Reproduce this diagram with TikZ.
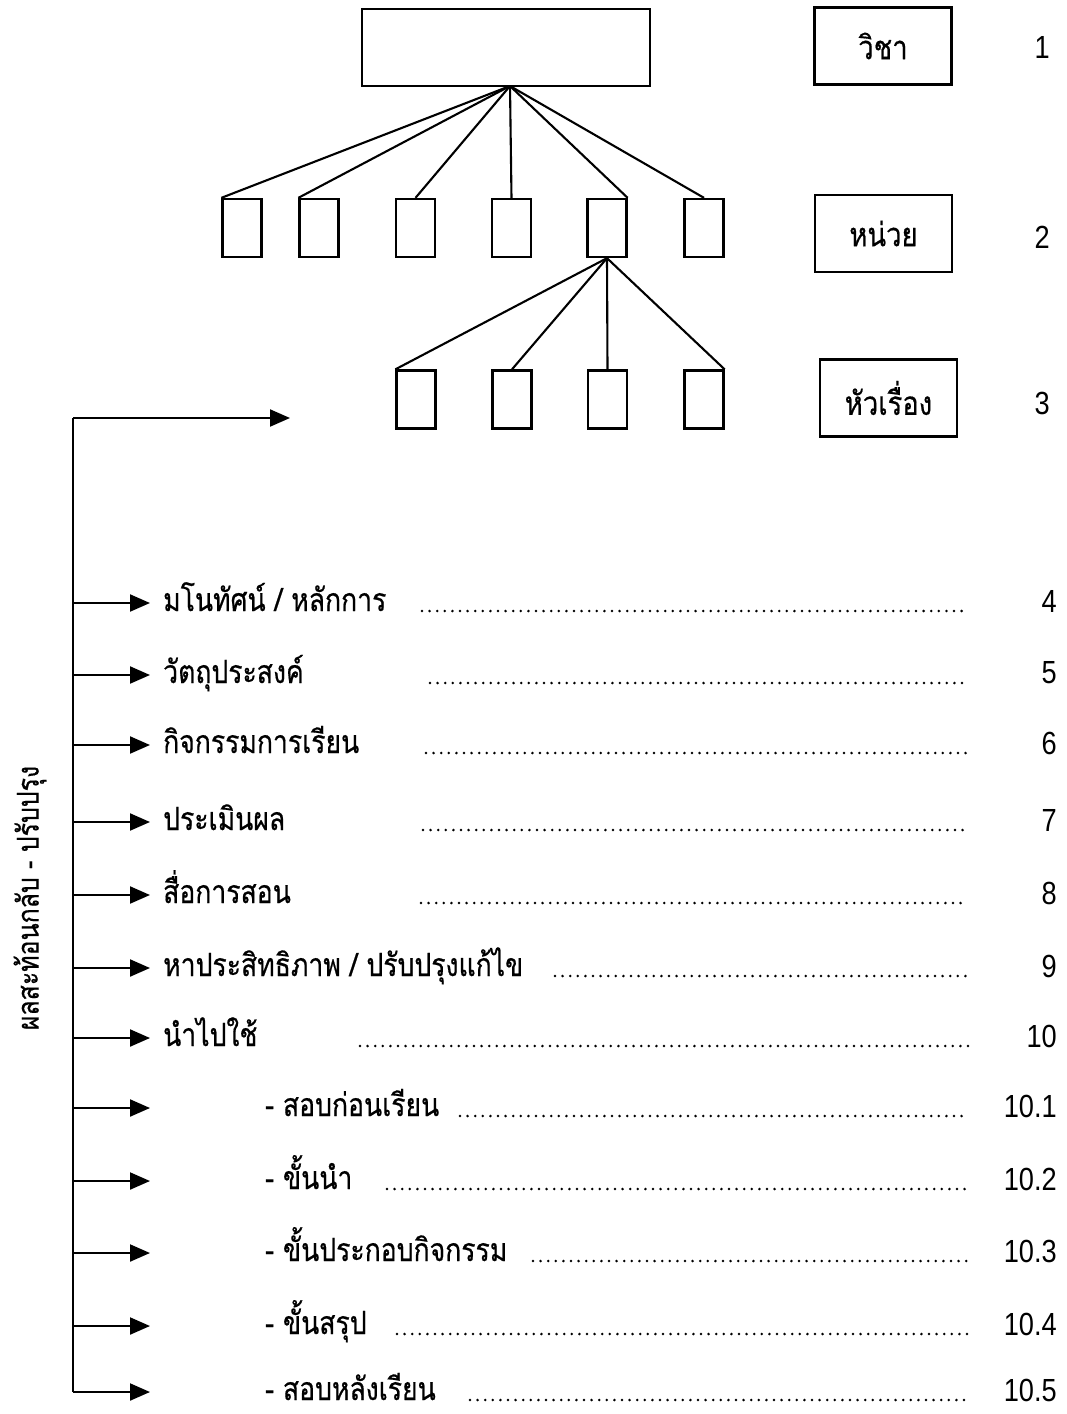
\documentclass[tikz,border=0pt]{standalone}
\usepackage{fontspec}
\setmainfont{Liberation Sans}[FakeStretch=0.85]
\newfontfamily\thai[Script=Thai, FakeStretch=0.83, FakeBold=0.5]{Loma}
\usetikzlibrary{arrows.meta}
\begin{document}
\begin{tikzpicture}[x=1pt,y=-1pt,
  frame/.style={draw, line width=2.3pt, inner sep=0pt},
  leaf/.style={frame, minimum width=39pt, minimum height=58pt},
  tag/.style={frame, minimum width=137pt, minimum height=77pt,
    font=\thai\fontsize{33}{38}\selectfont},
  link/.style={line width=2.1pt},
  feed/.style={line width=2.1pt, -{Triangle[length=20pt,width=17pt]}},
  label/.style={anchor=base west, inner sep=0pt, font=\thai\fontsize{32}{38}\selectfont},
  num/.style={anchor=east, inner sep=0pt, font=\fontsize{32}{36}\selectfont},
  leader/.style={line width=2.8pt, line cap=round, dash pattern=on 0pt off 7.6pt}
]
\useasboundingbox (0,0) rectangle (1067,1414);

% subject box and its units
\node[frame, minimum width=288pt, minimum height=77pt] (subj) at (506,47.5) {};
\foreach \n/\x in {1/242,2/319,3/415.5,4/511.5,5/607,6/704}
  \node[leaf] (u\n) at (\x,228) {};
\foreach \n/\x in {1/416,2/512,3/607.5,4/704}
  \node[leaf] (t\n) at (\x,399.5) {};

\coordinate (hub) at (510,86);
\draw[link] (hub) -- (u1.north west);
\draw[link] (hub) -- (u2.north west);
\draw[link] (hub) -- (u3.north);
\draw[link] (hub) -- (u4.north);
\draw[link] (hub) -- (u5.north east);
\draw[link] (hub) -- (u6.north);

\draw[link] (u5.south) -- (t1.north west);
\draw[link] (u5.south) -- (t2.north);
\draw[link] (u5.south) -- (t3.north);
\draw[link] (u5.south) -- (t4.north east);

% level captions
\node[tag] (k1) at (883,46) {วิชา};
\node[tag] (k2) at (883.5,233.5) {หน่วย};
\node[tag] (k3) at (888.5,398) {หัวเรื่อง};
\node[num] (n1) at (1050,47) {1};
\node[num] (n2) at (1050,237) {2};
\node[num] (n3) at (1050,403) {3};

% feedback bar
\coordinate (fbtop) at (73,418);
\coordinate (fbbot) at (73,1392);
\coordinate (fbend) at (290,418);
\draw[line width=2.1pt] (fbbot) -- (fbtop);
\draw[feed] (fbtop) -- (fbend);
\node[rotate=90, inner sep=0pt, font=\thai\fontsize{30}{36}\selectfont] (fbtext) at (30,898)
  {ผลสะท้อนกลับ - ปรับปรุง};

% steps
\foreach \i/\y/\tx/\txt/\ds/\nm in {
  1/603/163/{มโนทัศน์ / หลักการ}/422/4,
  2/675/163/{วัตถุประสงค์}/430/5,
  3/745/163/{กิจกรรมการเรียน}/426/6,
  4/822/163/{ประเมินผล}/423/7,
  5/895/163/{สื่อการสอน}/421/8,
  6/968/163/{หาประสิทธิภาพ / ปรับปรุงแก้ไข}/555/9,
  7/1038/163/{นำไปใช้}/360/10,
  8/1108/265/{- สอบก่อนเรียน}/460/10.1,
  9/1181/265/{- ขั้นนำ}/387/10.2,
  10/1253/265/{- ขั้นประกอบกิจกรรม}/533/10.3,
  11/1326/265/{- ขั้นสรุป}/397/10.4,
  12/1392/265/{- สอบหลังเรียน}/470/10.5}
{
  \coordinate (s\i) at (73,\y);
  \coordinate (e\i) at (150,\y);
  \draw[feed] (s\i) -- (e\i);
  \node[label] (l\i) at (\tx,\y+8) {\txt};
  \draw[leader] (\ds,\y+8) -- (968,\y+8);
  \node[num] (m\i) at (1057,\y-2) {\nm};
}
\end{tikzpicture}
\end{document}
